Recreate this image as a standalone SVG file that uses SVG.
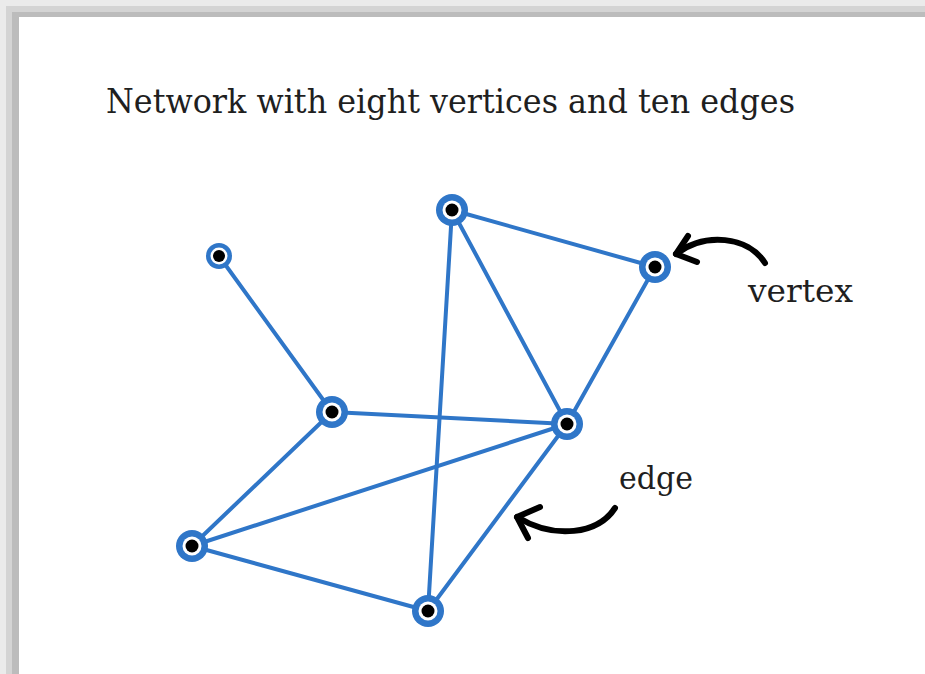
<svg xmlns="http://www.w3.org/2000/svg" width="925" height="674" viewBox="0 0 925 674">
  <style>
    .edge { stroke: #2f76c8; stroke-width: 4; stroke-linecap: round; fill: none; }
    .ring { fill: #2f76c8; }
    .gap { fill: #ffffff; }
    .dot { fill: #000000; }
    .label { font-family: "DejaVu Serif", "Liberation Serif", serif; fill: #1f1f1f; }
    .pointer { stroke: #000000; stroke-width: 6; stroke-linecap: round; stroke-linejoin: round; fill: none; }
  </style>
  <defs>
    <g id="vertex">
      <circle class="ring" r="16"/>
      <circle class="gap" r="9.5"/>
      <circle class="dot" r="6.5"/>
    </g>
  </defs>

  <!-- page frame with shaded top and left edges -->
  <rect x="0" y="0" width="925" height="674" fill="#ebebeb"/>
  <rect x="6" y="6" width="919" height="668" fill="#d4d4d4"/>
  <rect x="12" y="12" width="913" height="662" fill="#bcbcbc"/>
  <rect x="19" y="17" width="906" height="657" fill="#ffffff"/>

  <text class="label" x="106" y="113" font-size="33" textLength="689" lengthAdjust="spacingAndGlyphs">Network with eight vertices and ten edges</text>

  <!-- edges -->
  <g id="edges">
    <line class="edge" x1="219" y1="256" x2="332" y2="412"/>
    <line class="edge" x1="452" y1="210" x2="655" y2="267"/>
    <line class="edge" x1="452" y1="210" x2="567" y2="424"/>
    <line class="edge" x1="452" y1="210" x2="428" y2="611"/>
    <line class="edge" x1="655" y1="267" x2="567" y2="424"/>
    <line class="edge" x1="332" y1="412" x2="567" y2="424"/>
    <line class="edge" x1="332" y1="412" x2="192" y2="546"/>
    <line class="edge" x1="192" y1="546" x2="567" y2="424"/>
    <line class="edge" x1="192" y1="546" x2="428" y2="611"/>
    <line class="edge" x1="428" y1="611" x2="567" y2="424"/>
  </g>

  <!-- vertices -->
  <g id="node-a">
    <circle class="ring" cx="219" cy="256" r="13"/>
    <circle class="gap" cx="219" cy="256" r="8.5"/>
    <circle class="dot" cx="219" cy="256" r="6"/>
  </g>
  <g id="node-b"><use href="#vertex" x="452" y="210"/></g>
  <g id="node-c"><use href="#vertex" x="655" y="267"/></g>
  <g id="node-d"><use href="#vertex" x="332" y="412"/></g>
  <g id="node-e"><use href="#vertex" x="567" y="424"/></g>
  <g id="node-f"><use href="#vertex" x="192" y="546"/></g>
  <g id="node-g"><use href="#vertex" x="428" y="611"/></g>

  <!-- annotations -->
  <g id="vertex-callout">
    <path class="pointer" d="M765,263 C748,236 705,232 676,254"/>
    <path class="pointer" d="M688,236 L676,254 L697,262"/>
    <text class="label" x="748" y="302" font-size="32" textLength="105" lengthAdjust="spacingAndGlyphs">vertex</text>
  </g>
  <g id="edge-callout">
    <path class="pointer" d="M615,508 C598,534 555,540 517,517"/>
    <path class="pointer" d="M540,507 L517,517 L528,538"/>
    <text class="label" x="619" y="489" font-size="31" textLength="74" lengthAdjust="spacingAndGlyphs">edge</text>
  </g>
</svg>
